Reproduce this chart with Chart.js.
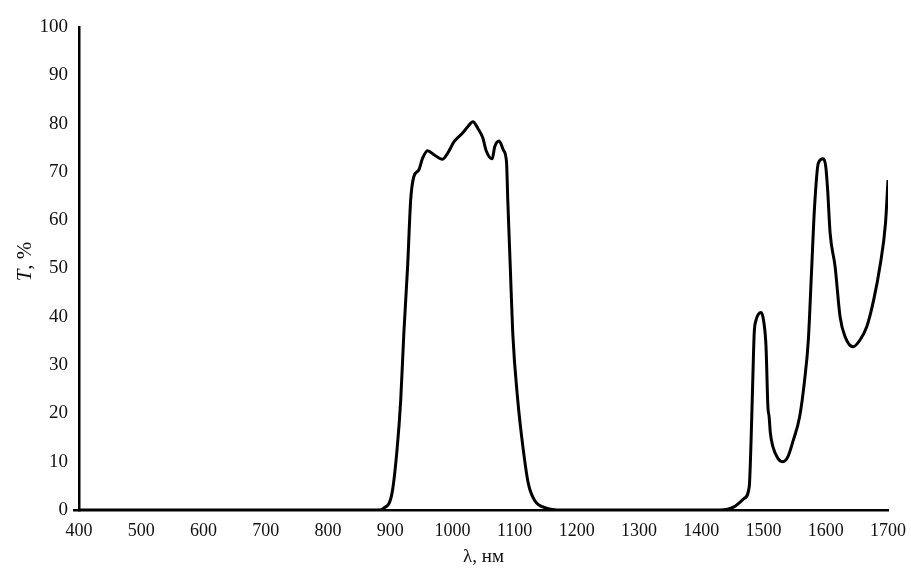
<!DOCTYPE html>
<html>
<head>
<meta charset="utf-8">
<script src="https://cdn.jsdelivr.net/npm/chart.js@4/dist/chart.umd.min.js"></script>
<style>
  html, body { margin: 0; padding: 0; background: #fff; }
  #wrap { width: 911px; height: 570px; }
</style>
</head>
<body>
<div id="wrap"><canvas id="specChart"></canvas></div>
<script>
// wavelength, nm
var wavelengths = [400, 880, 890, 903, 911, 917, 922, 928, 933, 938, 946, 952, 960, 971, 984, 992,
  1003, 1016, 1025, 1033, 1041, 1049, 1054, 1064, 1068, 1075, 1082, 1087, 1089, 1093, 1097,
  1105, 1114, 1122, 1132, 1151, 1175, 1430, 1453, 1469, 1477, 1480, 1483, 1485, 1488, 1496,
  1500, 1504, 1507, 1509, 1511, 1515, 1523, 1531, 1539, 1547, 1558, 1566, 1572, 1577, 1582,
  1588, 1596, 1600, 1603, 1607, 1615, 1623, 1631, 1644, 1655, 1666, 1677, 1687, 1696, 1700];
// transmission, %
var transmission = [0, 0, 0.4, 3.5, 12.4, 22.8, 36.6, 50.3, 64.2, 69, 70.4, 72.8, 74.4, 73.5, 72.6, 73.8,
  76.3, 78, 79.4, 80.4, 79, 77, 74.5, 72.7, 75.2, 76.4, 74.5, 72, 64.2, 50.4, 36.6,
  22.8, 12.4, 5.5, 2, 0.4, 0, 0, 0.7, 2.4, 4.8, 14.5, 28.3, 36.6, 39.3, 40.9,
  39.3, 33.8, 21.4, 19.3, 15.9, 13.1, 10.7, 10, 11, 14.1, 19.3, 26.9, 35.2, 49, 62.8,
  71.8, 72.7, 71.1, 66.3, 57.3, 50.4, 40, 35.9, 33.8, 35.2, 38, 43.5, 50.4, 59.4, 68.3];
var xTicks = [400, 500, 600, 700, 800, 900, 1000, 1100, 1200, 1300, 1400, 1500, 1600, 1700];
var yTicks = [0, 10, 20, 30, 40, 50, 60, 70, 80, 90, 100];

var points = wavelengths.map(function (w, i) { return { x: w, y: transmission[i] }; });
var serif = '"Liberation Serif", "Times New Roman", serif';

// y axis title with italic T
var yTitlePlugin = {
  id: 'yTitle',
  afterDraw: function (chart) {
    var ctx = chart.ctx;
    var area = chart.chartArea;
    ctx.save();
    ctx.translate(25, (area.top + area.bottom) / 2 - 7);
    ctx.rotate(-Math.PI / 2);
    ctx.fillStyle = '#111';
    ctx.textBaseline = 'middle';
    ctx.font = 'italic 21px ' + serif;
    var t = 'T';
    var rest = ', %';
    var w1 = ctx.measureText(t).width;
    ctx.font = '21px ' + serif;
    var w2 = ctx.measureText(rest).width;
    var x0 = -(w1 + w2) / 2;
    ctx.font = 'italic 21px ' + serif;
    ctx.fillText(t, x0, 0);
    ctx.font = '21px ' + serif;
    ctx.fillText(rest, x0 + w1, 0);
    ctx.restore();
  }
};

var ctx = document.getElementById('specChart').getContext('2d');
var myChart = new Chart(ctx, {
  type: 'scatter',
  data: {
    datasets: [{
      label: 'T',
      data: points,
      showLine: true,
      borderColor: '#000',
      borderWidth: 3,
      pointRadius: 0,
      cubicInterpolationMode: 'monotone',
      fill: false
    }]
  },
  options: {
    responsive: true,
    maintainAspectRatio: false,
    animation: false,
    layout: { padding: { top: 27, right: 23, left: 0, bottom: 0 } },
    plugins: {
      legend: { display: false },
      tooltip: { enabled: false }
    },
    scales: {
      x: {
        type: 'linear',
        min: 400,
        max: 1700,
        afterBuildTicks: function (axis) { axis.ticks = xTicks.map(function (v) { return { value: v }; }); },
        afterFit: function (axis) {
          axis.height = 60;
          axis.paddingLeft = 0;
          axis.paddingRight = 0;
        },
        grid: { display: false, drawTicks: false },
        border: { display: true, color: '#000', width: 2.5 },
        ticks: {
          color: '#111',
          font: { family: serif, size: 18 },
          padding: 10,
          maxRotation: 0,
          autoSkip: false,
          callback: function (v) { return String(v); }
        },
        title: {
          display: true,
          text: 'λ, нм',
          color: '#111',
          font: { family: serif, size: 19 },
          padding: { top: 0, bottom: 2 }
        }
      },
      y: {
        min: 0,
        max: 100,
        afterBuildTicks: function (axis) { axis.ticks = yTicks.map(function (v) { return { value: v }; }); },
        afterFit: function (axis) { axis.width = 79; },
        grid: {
          display: true,
          drawOnChartArea: false,
          drawTicks: true,
          tickLength: 6,
          lineWidth: 2.5,
          color: function (c) { return c.tick && c.tick.value === 0 ? '#000' : 'rgba(0,0,0,0)'; }
        },
        border: { display: true, color: '#000', width: 2.5 },
        ticks: {
          color: '#111',
          font: { family: serif, size: 19 },
          padding: 5,
          callback: function (v) { return String(v); }
        }
      }
    }
  },
  plugins: [yTitlePlugin]
});
</script>
</body>
</html>
